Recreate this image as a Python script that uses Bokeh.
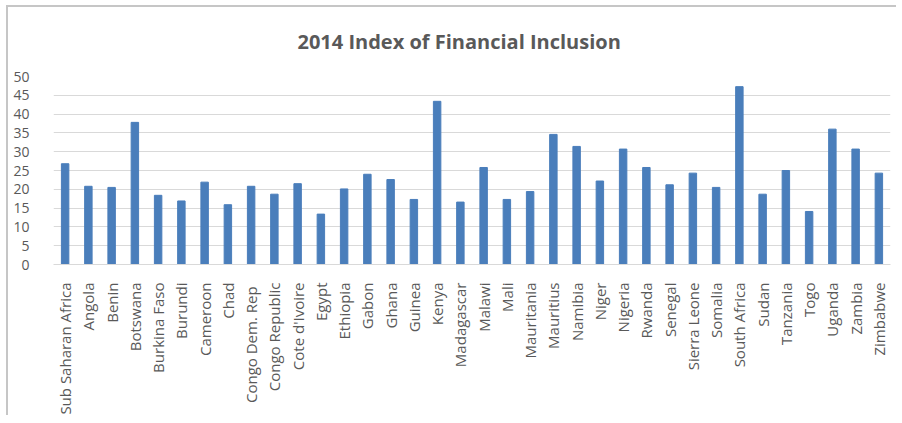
from bokeh.plotting import figure
from bokeh.models import FactorRange, Range1d, FixedTicker, Title
from bokeh.embed import file_html
from bokeh.resources import INLINE
from math import pi

countries = ["Sub Saharan Africa", "Angola", "Benin", "Botswana", "Burkina Faso", "Burundi",
             "Cameroon", "Chad", "Congo Dem.  Rep", "Congo Republic", "Cote d'Ivoire", "Egypt",
             "Ethiopia", "Gabon", "Ghana", "Guinea", "Kenya", "Madagascar", "Malawi", "Mali",
             "Mauritania", "Mauritius", "Namibia", "Niger", "Nigeria", "Rwanda", "Senegal",
             "Sierra Leone", "Somalia", "South Africa", "Sudan", "Tanzania", "Togo", "Uganda",
             "Zambia", "Zimbabwe"]
index_values = [26.8, 20.8, 20.5, 37.8, 18.4, 16.9,
                21.9, 15.9, 20.8, 18.7, 21.5, 13.4,
                20.1, 24.0, 22.6, 17.3, 43.4, 16.6, 25.8, 17.3,
                19.4, 34.6, 31.4, 22.2, 30.7, 25.8, 21.2,
                24.3, 20.5, 47.3, 18.7, 25.0, 14.1, 36.0,
                30.7, 24.3]
y_ticks = [0, 5, 10, 15, 20, 25, 30, 35, 40, 45, 50]
title_text = "2014 Index of Financial Inclusion"

FONT = "Open Sans"
GRAY = "#595959"

p = figure(width=890, height=410, x_range=FactorRange(*countries), y_range=Range1d(0, 50),
           output_backend="svg", toolbar_location=None,
           min_border_left=45, min_border_right=8, min_border_top=68, min_border_bottom=153)
p.styles = {"border-top": "2px solid #c6c6c6", "border-left": "2px solid #c6c6c6",
            "margin-top": "5px", "margin-left": "6px"}

p.vbar(x=countries, top=index_values, width=0.32, color="#4a7ebb")

title = Title(text=title_text, align="left", offset=244, vertical_align="top",
              standoff=40, text_font=FONT, text_font_size="20px",
              text_font_style="bold", text_color=GRAY)
p.add_layout(title, "above")

p.outline_line_color = None
p.xgrid.grid_line_color = None
p.ygrid.grid_line_color = "#d9d9d9"
p.ygrid.ticker = FixedTicker(ticks=y_ticks)

p.yaxis.ticker = FixedTicker(ticks=y_ticks)
p.yaxis.axis_line_color = None
p.yaxis.major_tick_line_color = None
p.yaxis.minor_tick_line_color = None
p.yaxis.major_label_standoff = 18
p.yaxis.major_label_text_font = FONT
p.yaxis.major_label_text_font_size = "14px"
p.yaxis.major_label_text_color = GRAY

p.xaxis.axis_line_color = "#d9d9d9"
p.xaxis.major_tick_line_color = None
p.xaxis.minor_tick_line_color = None
p.xaxis.major_label_orientation = pi / 2
p.xaxis.major_label_standoff = 12
p.xaxis.major_label_text_font = FONT
p.xaxis.major_label_text_font_size = "15px"
p.xaxis.major_label_text_color = GRAY
p.x_range.range_padding = 0

open("out.html", "w").write(file_html(p, INLINE))
